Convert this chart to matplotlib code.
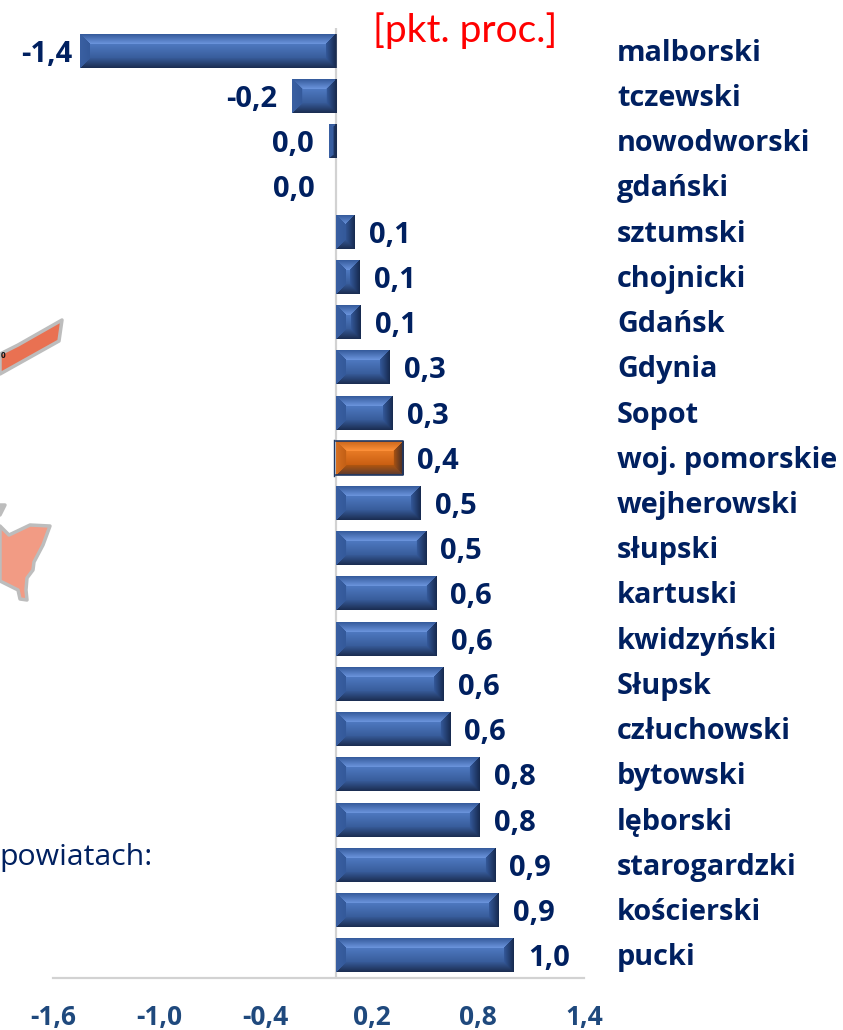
import numpy as np
import matplotlib
matplotlib.use("Agg")
import matplotlib.pyplot as plt
from matplotlib.colors import to_rgb
from matplotlib.patches import Polygon
from matplotlib.transforms import Affine2D

categories = ["malborski", "tczewski", "nowodworski", "gdański", "sztumski", "chojnicki",
              "Gdańsk", "Gdynia", "Sopot", "woj. pomorskie", "wejherowski", "słupski",
              "kartuski", "kwidzyński", "Słupsk", "człuchowski", "bytowski", "lęborski",
              "starogardzki", "kościerski", "pucki"]
values = [-1.446, -0.25, -0.04, 0.0, 0.107, 0.135, 0.14, 0.305, 0.32, 0.38, 0.48, 0.51,
          0.565, 0.57, 0.61, 0.645, 0.81, 0.81, 0.90, 0.92, 1.005]
value_labels = ["-1,4", "-0,2", "0,0", "0,0", "0,1", "0,1", "0,1", "0,3", "0,3", "0,4", "0,5",
                "0,5", "0,6", "0,6", "0,6", "0,6", "0,8", "0,8", "0,9", "0,9", "1,0"]
x_ticks = [-1.6, -1.0, -0.4, 0.2, 0.8, 1.4]
x_tick_labels = ["-1,6", "-1,0", "-0,4", "0,2", "0,8", "1,4"]
highlight = "woj. pomorskie"

W, H = 843, 1030
plt.rcParams["font.family"] = ["Open Sans", "DejaVu Sans"]
NAVY = "#002060"
TICK = "#1F497D"
GRID = "#D2D2D2"

fig = plt.figure(figsize=(W / 100, H / 100), dpi=100)
ax = fig.add_axes([53 / W, 1 - 978 / H, 531 / W, 950 / H])
ax.set_xlim(-1.6, 1.4)
ax.set_ylim(len(categories) - 0.5, -0.5)


def bevel_image(w_px, h_px, pal, b=10):
    """RGB image of a bevelled bar of w_px x h_px pixels."""
    w_px, h_px = max(int(round(w_px)), 1), max(int(round(h_px)), 1)
    yy, xx = np.mgrid[0:h_px, 0:w_px] + 0.5
    dl, dr, dt, db = xx, w_px - xx, yy, h_px - yy
    d = np.stack([dl, dr, dt, db])
    facet = np.where(d.min(axis=0) >= b, 4, d.argmin(axis=0))
    img = np.zeros((h_px, w_px, 3))
    c = {k: np.array(to_rgb(v)) for k, v in pal.items()}

    def mix(a, b_, t):
        return a[None, None, :] * (1 - t[..., None]) + b_[None, None, :] * t[..., None]

    full = [mix(c["l0"], c["l1"], np.clip(dl / b, 0, 1)),
            mix(c["r0"], c["r1"], np.clip(dr / b, 0, 1)),
            mix(c["t0"], c["t1"], np.clip(dt / b, 0, 1)),
            mix(c["b0"], c["b1"], np.clip(db / b, 0, 1)),
            mix(c["c0"], c["c1"], np.clip((yy - b) / max(h_px - 2 * b, 1), 0, 1))]
    for k in range(5):
        img[facet == k] = full[k][facet == k]
    return img


BLUE = dict(l0="#3A60A2", l1="#34599A", r0="#16294E", r1="#34599A",
            t0="#34599A", t1="#6C96DE", b0="#1A2C50", b1="#375A97",
            c0="#4E79C0", c1="#385C9B")
ORANGE = dict(l0="#D77022", l1="#C25F15", r0="#3A2A2A", r1="#A85212",
              t0="#C9651A", t1="#FF923A", b0="#5A3A30", b1="#B0560F",
              c0="#E87B25", c1="#C95F12")

colors = ["#E36C0A" if c == highlight else "#365F9E" for c in categories]
bars = ax.barh(range(len(categories)), values, height=34 / 45.24, color=colors, zorder=2)

sx = 531 / 3.0  # pixels per data unit
for cat, bar in zip(categories, bars):
    x, y, w, h = bar.get_x(), bar.get_y(), bar.get_width(), bar.get_height()
    if w == 0:
        continue
    left, right = min(x, x + w), max(x, x + w)
    pal = ORANGE if cat == highlight else BLUE
    ax.imshow(bevel_image((right - left) * sx, h * 45.24, pal),
              extent=(left, right, y + h, y), origin="upper",
              aspect="auto", zorder=3, interpolation="bilinear")
    if w < 0:
        ax.plot([0, 0], [y, y + h], color="#1C2E52", lw=1.2, zorder=4, solid_capstyle="butt")
    if cat == highlight:
        ax.plot([-0.012, -0.012], [y - 0.02, y + h + 0.02], color="#1F3864", lw=1, zorder=4)
        ax.plot([left, right, right, left], [y, y, y + h, y + h],
                color="#1F3864", lw=1.2, zorder=4)

ax.set_xlim(-1.6, 1.4)
ax.set_ylim(len(categories) - 0.5, -0.5)

for s in ["top", "right", "left"]:
    ax.spines[s].set_visible(False)
ax.spines["bottom"].set_color(GRID)
ax.spines["bottom"].set_linewidth(1.6)
ax.axvline(0, color=GRID, lw=1.6, zorder=1)
ax.set_yticks([])
ax.set_xticks(x_ticks)
ax.set_xticklabels(x_tick_labels, fontsize=19, fontweight="bold", color=TICK)
ax.tick_params(axis="x", length=0, pad=19)
for lab in ax.get_xticklabels():
    lab.set_ha("center")

PX = 0.72  # points per pixel at dpi 100
for i, (cat, v, txt) in enumerate(zip(categories, values, value_labels)):
    if i == 0:
        off, ha = -8, "right"
    elif v < 0:
        off, ha = -15, "right"
    elif v == 0:
        off, ha = -21, "right"
    else:
        off, ha = 14, "left"
    ax.annotate(txt, (v, i), xytext=(off * PX, -11 * PX), textcoords="offset points",
                ha=ha, va="baseline", fontsize=21, fontweight="bold", color=NAVY, zorder=5)
    ax.annotate(cat, (617 / W, i), xycoords=("figure fraction", "data"),
                xytext=(0, -10 * PX), textcoords="offset points", ha="left", va="baseline",
                fontsize=20.8, fontweight="bold", color=NAVY, annotation_clip=False)

fig.text(373 / W, 1 - 31 / H, "[pkt. proc.]", color="#FF0000", fontsize=28,
         family=["Lato", "DejaVu Sans"], ha="left", va="center")
fig.text(-1 / W, 1 - 865 / H, "powiatach:", color=NAVY, fontsize=21.8, ha="left", va="baseline")

# Fragments of the neighbouring map, placed in figure pixels
to_fig = Affine2D().scale(1 / W, -1 / H).translate(0, 1) + fig.transFigure
map_orange = [(0, 354), (18, 345), (62, 320), (59, 341), (0, 374)]
map_salmon = [(0, 526), (9, 535), (30, 525), (50, 526), (43, 545), (34, 562), (33, 570),
              (27, 578), (26, 590), (27, 600), (20, 599), (18, 590), (0, 581)]
map_stub = [(0, 505), (5, 505), (0, 515)]
for pts, col in [(map_orange, "#E97152"), (map_salmon, "#F29B84"), (map_stub, "#C0C0C0")]:
    fig.add_artist(Polygon(pts, closed=True, facecolor=col, edgecolor="#BDBDBD", lw=2.5,
                           transform=to_fig, joinstyle="round"))
fig.text(0.5 / W, 1 - 355 / H, "0", fontsize=6, fontweight="bold", color="#111111", va="center")

fig.savefig("out.png", dpi=100)
